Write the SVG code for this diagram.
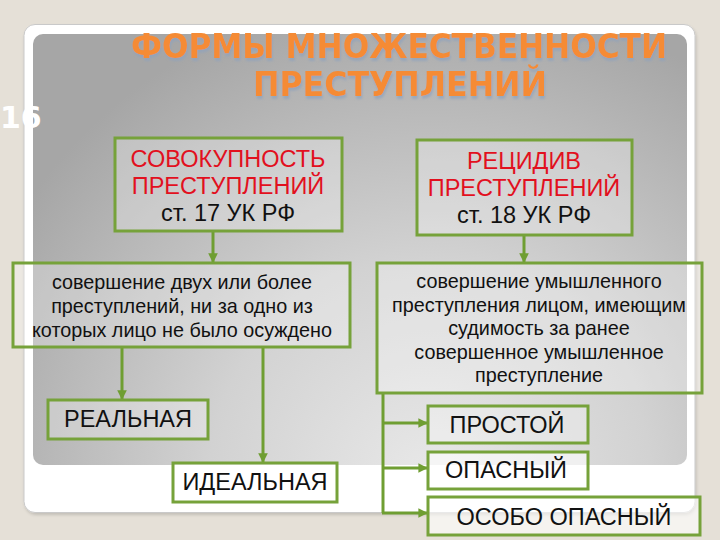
<svg xmlns="http://www.w3.org/2000/svg" width="720" height="540" viewBox="0 0 720 540">
<defs>
<radialGradient id="panelGrad" gradientUnits="userSpaceOnUse" cx="430" cy="480" r="490">
<stop offset="0" stop-color="#e8e8e8"/>
<stop offset="0.45" stop-color="#d2d2d2"/>
<stop offset="1" stop-color="#a6a6a6"/>
</radialGradient>
<marker id="arr" viewBox="0 0 10 10" refX="9" refY="5" markerWidth="3.2" markerHeight="3.2" orient="auto" markerUnits="strokeWidth">
<path d="M0,0 L10,5 L0,10 z" fill="#6f9e32"/>
</marker>
<filter id="fshadow" x="-5%" y="-5%" width="110%" height="110%">
<feDropShadow dx="1" dy="2" stdDeviation="1.5" flood-color="#000" flood-opacity="0.15"/>
</filter>
<filter id="tshadow" x="-5%" y="-20%" width="110%" height="150%">
<feDropShadow dx="1" dy="3" stdDeviation="1" flood-color="#8fa2bd" flood-opacity="0.7"/>
</filter>
</defs>
<style>
.box{fill:#ffffff;fill-opacity:0.28;stroke:#76a23a;stroke-width:3}
.boxw{fill:#ffffff;fill-opacity:0.6;stroke:#76a23a;stroke-width:3}
.lbl{font-family:"Liberation Sans",Arial,sans-serif;font-size:23.5px;fill:#111;text-anchor:middle}
.red{fill:#e2101e}
.desc{font-family:"Liberation Sans",Arial,sans-serif;font-size:19.8px;fill:#111;text-anchor:middle}
.title{font-family:"DejaVu Sans",Verdana,sans-serif;font-weight:bold;font-size:34px;text-anchor:middle;fill:#f58b35}
.conn{fill:none;stroke:#6f9e32;stroke-width:3}
</style>
<rect x="0" y="0" width="720" height="540" fill="#e5e0d7"/>
<rect x="24" y="24.5" width="671" height="488" rx="11" fill="#ffffff" stroke="#c9c9c9" stroke-width="1" filter="url(#fshadow)"/>
<rect x="33" y="34" width="654" height="431" rx="10" fill="url(#panelGrad)"/>
<g id="title" filter="url(#tshadow)">
<text class="title" x="399" y="58" textLength="536" lengthAdjust="spacingAndGlyphs">ФОРМЫ МНОЖЕСТВЕННОСТИ</text>
<text class="title" x="400" y="96" textLength="294" lengthAdjust="spacingAndGlyphs">ПРЕСТУПЛЕНИЙ</text>
</g>
<text x="0" y="128" font-family="DejaVu Sans,sans-serif" font-weight="bold" font-size="30" fill="#ffffff">16</text>
<g id="connectors">
<line class="conn" x1="213" y1="231" x2="213" y2="262" marker-end="url(#arr)"/>
<line class="conn" x1="524" y1="235" x2="524" y2="262" marker-end="url(#arr)"/>
<line class="conn" x1="122" y1="347" x2="122" y2="399" marker-end="url(#arr)"/>
<line class="conn" x1="263" y1="347" x2="263" y2="462" marker-end="url(#arr)"/>
<line class="conn" x1="383" y1="393" x2="383" y2="513"/>
<line class="conn" x1="382" y1="423" x2="427" y2="423" marker-end="url(#arr)"/>
<line class="conn" x1="382" y1="468" x2="427" y2="468" marker-end="url(#arr)"/>
<line class="conn" x1="382" y1="513" x2="427" y2="513" marker-end="url(#arr)"/>
</g>
<g id="sovokupnost">
<rect class="box" x="115" y="138" width="227" height="93"/>
<text class="lbl red" x="228" y="167">СОВОКУПНОСТЬ</text>
<text class="lbl red" x="228" y="194">ПРЕСТУПЛЕНИЙ</text>
<text class="lbl" x="228" y="221">ст. 17 УК РФ</text>
</g>
<g id="recidiv">
<rect class="box" x="417" y="140" width="215" height="95"/>
<text class="lbl red" x="524" y="169">РЕЦИДИВ</text>
<text class="lbl red" x="524" y="196">ПРЕСТУПЛЕНИЙ</text>
<text class="lbl" x="524" y="223">ст. 18 УК РФ</text>
</g>
<g id="desc-left">
<rect class="box" x="13" y="263" width="337" height="84"/>
<text class="desc" x="182" y="289">совершение двух или более</text>
<text class="desc" x="182" y="313">преступлений, ни за одно из</text>
<text class="desc" x="182" y="337">которых лицо не было осуждено</text>
</g>
<g id="desc-right">
<rect class="box" x="377" y="263" width="325" height="130"/>
<text class="desc" x="539" y="288">совершение умышленного</text>
<text class="desc" x="539" y="311.5">преступления лицом, имеющим</text>
<text class="desc" x="539" y="335">судимость за ранее</text>
<text class="desc" x="539" y="358.5">совершенное умышленное</text>
<text class="desc" x="539" y="382">преступление</text>
</g>
<g id="realnaya">
<rect class="box" x="48" y="400" width="160" height="39"/>
<text class="lbl" x="128" y="427">РЕАЛЬНАЯ</text>
</g>
<g id="idealnaya">
<rect class="boxw" x="173" y="463" width="164" height="39"/>
<text class="lbl" x="255" y="490">ИДЕАЛЬНАЯ</text>
</g>
<g id="prostoy">
<rect class="box" x="428" y="406" width="160" height="37"/>
<text class="lbl" x="507" y="433">ПРОСТОЙ</text>
</g>
<g id="opasny">
<rect class="boxw" x="428" y="452" width="160" height="37"/>
<text class="lbl" x="506" y="478">ОПАСНЫЙ</text>
</g>
<g id="osobo">
<rect class="boxw" x="428" y="497" width="272" height="38"/>
<text class="lbl" x="564" y="525">ОСОБО ОПАСНЫЙ</text>
</g>
</svg>
